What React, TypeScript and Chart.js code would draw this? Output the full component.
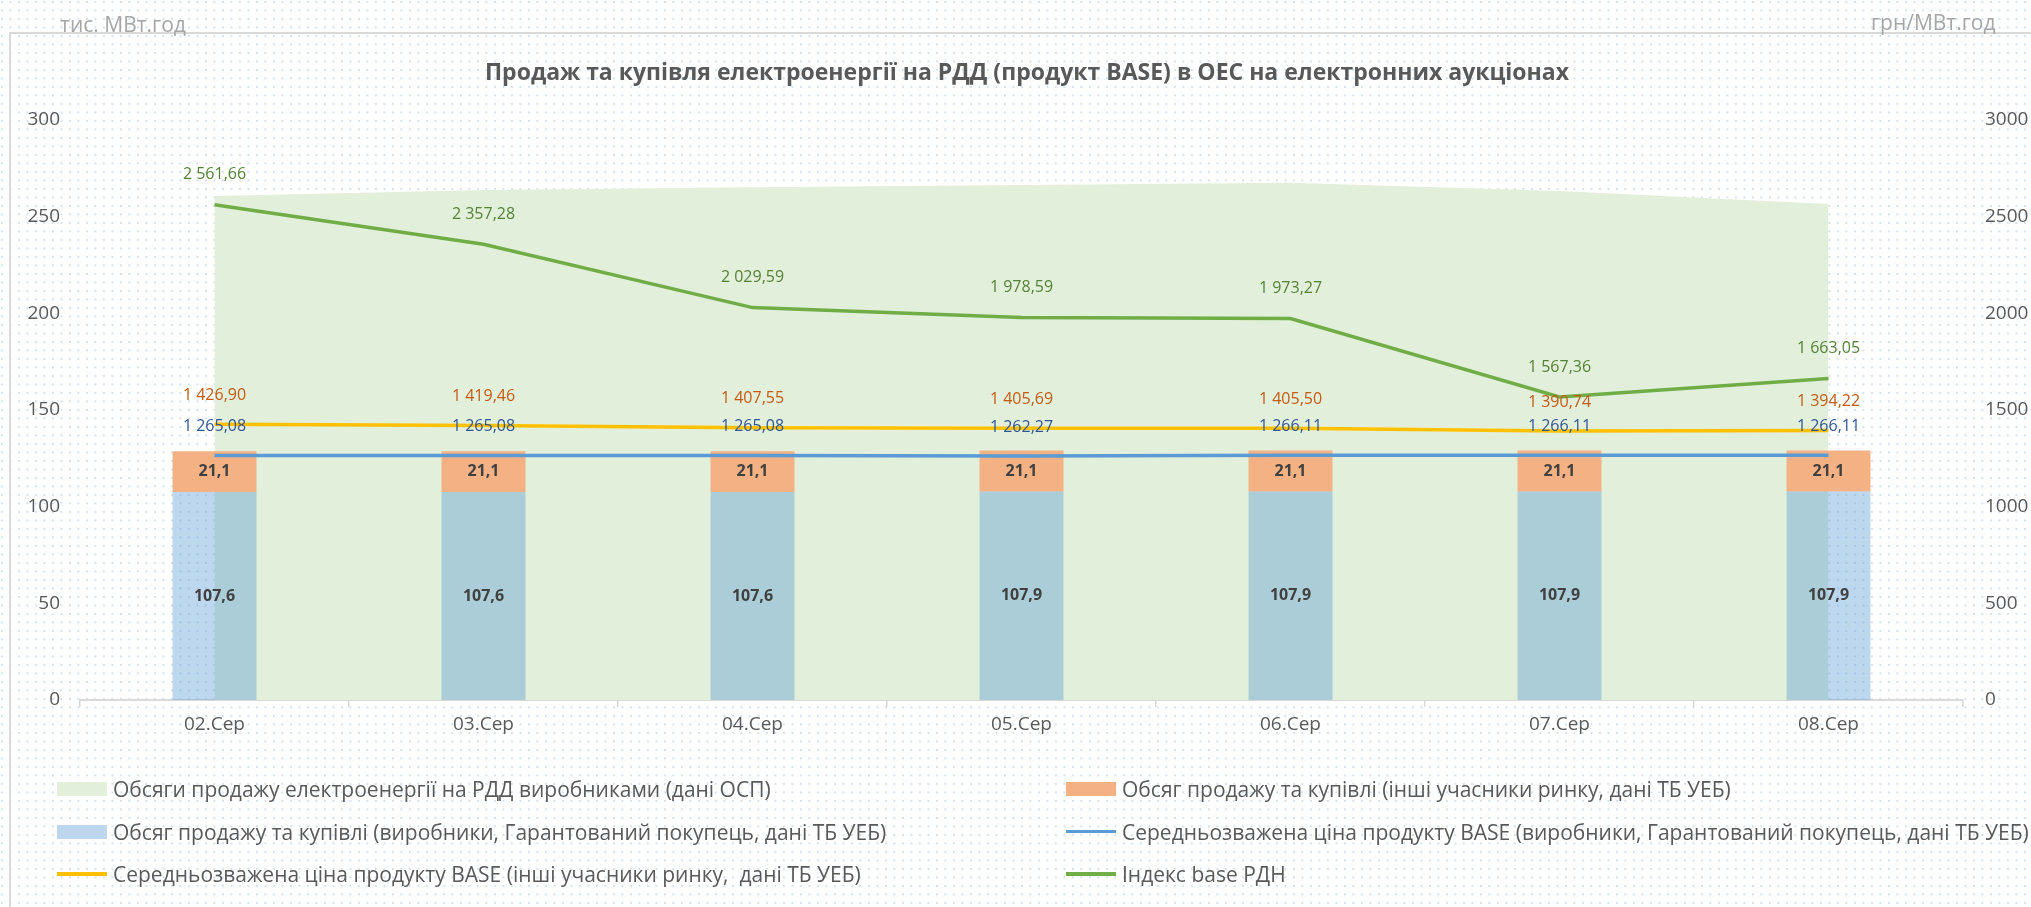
import React, { useEffect, useRef } from 'react';
import { Chart, registerables } from 'chart.js';

Chart.register(...registerables);

// ---------- data ----------
const categories = ['02.Сер', '03.Сер', '04.Сер', '05.Сер', '06.Сер', '07.Сер', '08.Сер'];

const ospVolume = [260.7, 263.8, 265.2, 266.4, 267.6, 263.3, 256.6];
const producersVolume = [107.6, 107.6, 107.6, 107.9, 107.9, 107.9, 107.9];
const othersVolume = [21.1, 21.1, 21.1, 21.1, 21.1, 21.1, 21.1];

const producersPrice = [1265.08, 1265.08, 1265.08, 1262.27, 1266.11, 1266.11, 1266.11];
const othersPrice = [1426.9, 1419.46, 1407.55, 1405.69, 1405.5, 1390.74, 1394.22];
const rdnIndex = [2561.66, 2357.28, 2029.59, 1978.59, 1973.27, 1567.36, 1663.05];

const volumeAxis = { min: 0, max: 300, step: 50 };
const priceAxis = { min: 0, max: 3000, step: 500 };

const TITLE = 'Продаж та купівля електроенергії на РДД (продукт BASE) в ОЕС на електронних аукціонах';
const LEFT_UNIT = 'тис. МВт.год';
const RIGHT_UNIT = 'грн/МВт.год';

const AREA_LABEL = 'Обсяги продажу електроенергії на РДД виробниками (дані ОСП)';
const OTHERS_VOL_LABEL = 'Обсяг продажу та купівлі (інші учасники ринку, дані ТБ УЕБ)';
const PROD_VOL_LABEL = 'Обсяг продажу та купівлі (виробники, Гарантований покупець, дані ТБ УЕБ)';
const PROD_PRICE_LABEL = 'Середньозважена ціна продукту BASE (виробники, Гарантований покупець, дані ТБ УЕБ)';
const OTHERS_PRICE_LABEL = 'Середньозважена ціна продукту BASE (інші учасники ринку,  дані ТБ УЕБ)';
const INDEX_LABEL = 'Індекс base РДН';

// ---------- styles ----------
const FONT = "'Open Sans', 'Noto Sans', sans-serif";
const C_AREA = '#E2EFDA';
const C_ORANGE_BAR = '#F4B183';
const C_BLUE_BAR = 'rgba(91,155,213,0.4)';
const C_BLUE_BAR_LEGEND = '#BDD7EE';
const C_YELLOW = '#FFC000';
const C_BLUE = '#5B9BD5';
const C_GREEN = '#70AD47';
const C_TEXT = '#595959';

function fmtPrice(v: number): string {
  const [i, d] = v.toFixed(2).split('.');
  return i.replace(/\B(?=(\d{3})+(?!\d))/g, ' ') + ',' + d;
}
function fmtVol(v: number): string {
  return v.toFixed(1).replace('.', ',');
}

const valueLabels = {
  id: 'valueLabels',
  afterDatasetsDraw(chart: any) {
    const ctx = chart.ctx;
    ctx.save();
    chart.data.datasets.forEach((ds: any, i: number) => {
      const cfg = ds.valueLabel;
      const meta = chart.getDatasetMeta(i);
      if (!cfg || meta.hidden) return;
      ctx.font = `${cfg.bold ? 'bold ' : ''}16px ${FONT}`;
      ctx.fillStyle = cfg.color;
      ctx.textAlign = 'center';
      ctx.textBaseline = 'middle';
      meta.data.forEach((el: any, j: number) => {
        const v = ds.data[j];
        if (cfg.kind === 'bar') {
          const p = el.getProps(['x', 'y', 'base'], true);
          ctx.fillText(fmtVol(v), p.x, (p.y + p.base) / 2);
        } else {
          ctx.fillText(fmtPrice(v), el.x, el.y + cfg.dy);
        }
      });
    });
    ctx.restore();
  },
};

const legendItems = [
  { label: AREA_LABEL, kind: 'box', color: C_AREA },
  { label: OTHERS_VOL_LABEL, kind: 'box', color: C_ORANGE_BAR },
  { label: PROD_VOL_LABEL, kind: 'box', color: C_BLUE_BAR_LEGEND },
  { label: PROD_PRICE_LABEL, kind: 'line', color: C_BLUE },
  { label: OTHERS_PRICE_LABEL, kind: 'line', color: C_YELLOW },
  { label: INDEX_LABEL, kind: 'line', color: C_GREEN },
];

export default function App() {
  const canvasRef = useRef<HTMLCanvasElement | null>(null);

  useEffect(() => {
    if (!canvasRef.current) return;
    Chart.defaults.font.family = FONT;
    const tickFont = { size: 19, family: FONT };
    const chart = new Chart(canvasRef.current, {
      type: 'bar',
      data: {
        labels: categories,
        datasets: [
          {
            type: 'line',
            label: INDEX_LABEL,
            data: rdnIndex,
            yAxisID: 'y1',
            borderColor: C_GREEN,
            borderWidth: 3.5,
            pointRadius: 0,
            fill: false,
            tension: 0,
            order: 0,
            valueLabel: { kind: 'line', color: '#548235', dy: -30 },
          } as any,
          {
            type: 'line',
            label: OTHERS_PRICE_LABEL,
            data: othersPrice,
            yAxisID: 'y1',
            borderColor: C_YELLOW,
            borderWidth: 3.5,
            pointRadius: 0,
            fill: false,
            tension: 0,
            order: 0,
            valueLabel: { kind: 'line', color: '#C55A11', dy: -29 },
          } as any,
          {
            type: 'line',
            label: PROD_PRICE_LABEL,
            data: producersPrice,
            yAxisID: 'y1',
            borderColor: C_BLUE,
            borderWidth: 3.5,
            pointRadius: 0,
            fill: false,
            tension: 0,
            order: 0,
            valueLabel: { kind: 'line', color: '#2F5597', dy: -29 },
          } as any,
          {
            type: 'bar',
            label: PROD_VOL_LABEL,
            data: producersVolume,
            yAxisID: 'y',
            stack: 'bars',
            backgroundColor: C_BLUE_BAR,
            borderWidth: 0,
            barPercentage: 0.312,
            categoryPercentage: 1,
            order: 1,
            valueLabel: { kind: 'bar', color: '#404040', bold: true },
          } as any,
          {
            type: 'bar',
            label: OTHERS_VOL_LABEL,
            data: othersVolume,
            yAxisID: 'y',
            stack: 'bars',
            backgroundColor: C_ORANGE_BAR,
            borderWidth: 0,
            barPercentage: 0.312,
            categoryPercentage: 1,
            order: 2,
            valueLabel: { kind: 'bar', color: '#404040', bold: true },
          } as any,
          {
            type: 'line',
            label: AREA_LABEL,
            data: ospVolume,
            yAxisID: 'y',
            stack: 'osp',
            backgroundColor: C_AREA,
            borderWidth: 0,
            pointRadius: 0,
            fill: 'origin',
            tension: 0,
            order: 3,
          } as any,
        ],
      },
      options: {
        responsive: true,
        maintainAspectRatio: false,
        animation: false,
        layout: { padding: { top: 120, left: 0, right: 0, bottom: 0 } },
        plugins: {
          legend: { display: false },
          title: { display: false },
          tooltip: { enabled: false },
        },
        scales: {
          x: {
            stacked: true,
            offset: true,
            grid: {
              display: true,
              drawOnChartArea: false,
              drawTicks: true,
              tickLength: 7,
              color: '#d9d9d9',
              lineWidth: 1.5,
              offset: true,
            },
            border: { display: true, color: '#d9d9d9', width: 2 },
            ticks: { color: C_TEXT, font: tickFont, padding: 6, maxRotation: 0 },
            afterFit: (s: any) => {
              s.height = 207;
            },
          },
          y: {
            stacked: true,
            min: volumeAxis.min,
            max: volumeAxis.max,
            ticks: {
              stepSize: volumeAxis.step,
              color: C_TEXT,
              font: tickFont,
              padding: 20,
              callback: (v: any) => String(v),
            },
            grid: { display: false, drawTicks: false },
            border: { display: false },
            afterFit: (s: any) => {
              s.width = 80;
            },
          },
          y1: {
            position: 'right',
            min: priceAxis.min,
            max: priceAxis.max,
            ticks: {
              stepSize: priceAxis.step,
              color: C_TEXT,
              font: tickFont,
              padding: 22,
              callback: (v: any) => String(v),
            },
            grid: { display: false, drawTicks: false },
            border: { display: false },
            afterFit: (s: any) => {
              s.width = 68;
            },
          },
        } as any,
      },
      plugins: [valueLabels],
    });
    return () => chart.destroy();
  }, []);

  const dots =
    'radial-gradient(circle at 2px 2px, #d3e0ef 0.9px, rgba(255,255,255,0) 1.4px)';

  return (
    <div
      style={{
        position: 'absolute',
        left: 0,
        top: 0,
        width: 2031,
        height: 907,
        overflow: 'hidden',
        backgroundColor: '#ffffff',
        backgroundImage: dots,
        backgroundSize: '8.5px 8.5px',
        fontFamily: FONT,
      }}
    >
      <div
        style={{
          position: 'absolute',
          left: 9,
          top: 32,
          width: 2200,
          height: 1000,
          borderTop: '2px solid #d9d9d9',
          borderLeft: '2px solid #d9d9d9',
        }}
      />
      <div style={{ position: 'absolute', left: 0, top: 0, width: 2031, height: 907 }}>
        <canvas ref={canvasRef} />
      </div>
      <div
        style={{
          position: 'absolute',
          left: 60,
          top: 12,
          fontSize: 21,
          lineHeight: '24px',
          color: '#a6a6a6',
          whiteSpace: 'nowrap',
        }}
      >
        {LEFT_UNIT}
      </div>
      <div
        style={{
          position: 'absolute',
          left: 1871,
          top: 10,
          fontSize: 21,
          lineHeight: '24px',
          color: '#a6a6a6',
          whiteSpace: 'nowrap',
        }}
      >
        {RIGHT_UNIT}
      </div>
      <div
        style={{
          position: 'absolute',
          left: 1027,
          top: 58,
          transform: 'translateX(-50%)',
          fontSize: 23,
          lineHeight: '26px',
          fontWeight: 700,
          color: C_TEXT,
          whiteSpace: 'nowrap',
        }}
      >
        {TITLE}
      </div>
      {legendItems.map((it, k) => {
        const col = k % 2;
        const row = Math.floor(k / 2);
        return (
          <div
            key={k}
            style={{
              position: 'absolute',
              left: col === 0 ? 57 : 1066,
              top: 768 + row * 42.5,
              height: 42,
              display: 'flex',
              alignItems: 'center',
              whiteSpace: 'pre',
              fontSize: 21,
              color: C_TEXT,
            }}
          >
            <span
              style={{
                display: 'inline-block',
                width: 50,
                height: it.kind === 'box' ? 14 : 3.5,
                backgroundColor: it.color,
                marginRight: 6,
              }}
            />
            <span>{it.label}</span>
          </div>
        );
      })}
    </div>
  );
}
